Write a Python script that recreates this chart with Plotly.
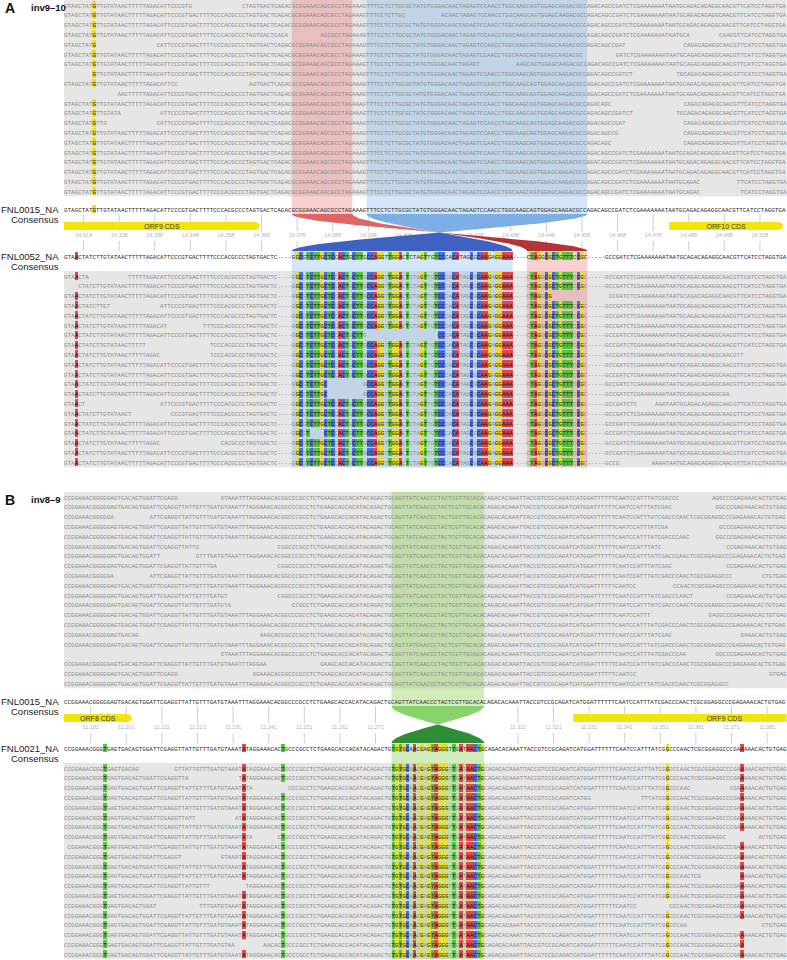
import plotly.graph_objects as go

# ---------------- data ----------------
# consensus sequences (index 0 = first visible column)
CONS_A_TOP = ("GTAGCTATGTTGTATAACTTTTTAGACATTCCCGTGACTTTTCCCACGCCCTAGTGACTC"
              "AGACGCGGAAACAGCGCCTAGAAAGTTTCCTCTTGCGCTATGTGGGACAACTAGAGTCCA"
              "ACCTGGCAAGCAGTGGAGCAAGACGCCAGACAGCCGATCTCGAAAAAAATAATGCAGACA"
              "GAGGCAACGTTCATCCTAGGTGA")
CONS_A_BOT = ("GTAACTATCTTGTATAACTTTTTAGACATTCCCGTGACTTTTCCCACGCCCTAGTGACTC"
              "----"
              "GGCGTCTTGCTCCACTGCTTGCCAGGTTGGACTCTAGTTGTCCCACATAGCGCAAGAGGAAA"
              "----"
              "CTAGGCGCTGTTTCCGC"
              "-----"
              "GCCGATCTCGAAAAAAATAATGCAGACAGAGGCAACGTTCATCCTAGGTGA")
CONS_B_TOP = ("CCGGAAACGGGGGAGTGACAGTGGATTCGAGGTTATTGTTTGATGTAAATTTAGGAAACA"
              "CGGCCCGCCTCTGAAGCACCACATACAGACTGCAGTTATCAACCCTACTCGTTGCACACA"
              "GACACAAATTACCGTCCGCAGATCATGGATTTTTTCAATCCATTTATCGACCCAACTCGC"
              "GGAGGCCCGAGAAACACTGTGAG")
CONS_B_BOT = ("CCGGAAACGGGTGAGTGACAGTGGATTCGAGGTTATTGTTTGATGTAAATATAGGAAACA"
              "CTGCCCGCCTCTGAAGCACCACATACAGACTGTGTGCAACGAGTAGGGTTGATAACTGCA"
              "GACACAAATTACCGTCCGCAGATCATGGATTTTTTCAATCCATTTATCGGCCCAACTCGC"
              "GGAGGCCCGAAAAACACTGTGAG")

# reads: covered column intervals (inclusive)
READS_A_TOP = [
    [[0, 35], [50, 202]], [[0, 95], [106, 202]], [[0, 202]],
    [[0, 62], [72, 175], [184, 202]], [[0, 8], [26, 157], [174, 202]],
    [[0, 145], [155, 202]], [[0, 116], [127, 202]], [[8, 159], [172, 202]],
    [[0, 31], [52, 202]], [[15, 202]], [[0, 153], [174, 202]],
    [[0, 15], [27, 159], [172, 202]], [[0, 11], [26, 157], [174, 202]],
    [[0, 155], [174, 202]], [[0, 153], [174, 202]], [[0, 202]], [[0, 202]],
    [[0, 202]], [[0, 178], [189, 202]], [[0, 178], [190, 202]],
]
READS_A_BOT = [
    [[0, 6], [18, 202]], [[4, 202]], [[0, 136], [153, 202]],
    [[0, 12], [27, 202]], [[0, 202]], [[0, 28], [39, 202]],
    [[0, 84], [105, 202]], [[0, 22], [41, 202]], [[0, 26], [41, 190]],
    [[0, 202]], [[0, 202]], [[0, 73], [84, 202]], [[0, 73], [84, 186]],
    [[0, 5], [27, 160], [166, 202]], [[0, 18], [30, 202]], [[0, 202]],
    [[0, 68], [73, 202]], [[0, 26], [44, 202]], [[0, 202]],
    [[0, 155], [165, 202]],
]
READS_B_TOP = [
    [[0, 31], [44, 172], [182, 202]], [[0, 170], [183, 202]],
    [[0, 13], [24, 202]], [[0, 169], [184, 202]], [[0, 175], [183, 202]],
    [[0, 37], [60, 167], [186, 202]], [[0, 26], [37, 202]],
    [[0, 42], [60, 170], [186, 202]], [[0, 13], [24, 187], [196, 202]],
    [[0, 160], [171, 202]], [[0, 45], [60, 176], [186, 202]],
    [[0, 46], [64, 202]], [[0, 164], [181, 202]], [[0, 202]],
    [[0, 20], [55, 170], [190, 202]], [[0, 202]], [[44, 174], [183, 202]],
    [[0, 56], [72, 202]], [[0, 31], [53, 160], [198, 202]], [[0, 186]],
]
READS_B_BOT = [
    [[0, 20], [31, 202]], [[0, 34], [49, 202]],
    [[0, 52], [63, 175], [187, 202]], [[0, 147], [162, 202]], [[0, 202]],
    [[0, 36], [48, 202]], [[0, 202]], [[0, 52], [60, 185], [195, 202]],
    [[1, 202]], [[0, 32], [44, 202]], [[0, 202]], [[0, 178], [190, 202]],
    [[0, 40], [51, 202]], [[0, 202]], [[0, 25], [38, 160], [170, 202]],
    [[0, 202]], [[0, 174], [196, 202]], [[0, 202]], [[0, 47], [56, 190]],
    [[0, 202]],
]

# inverted segments: (top start, top end, bottom start, bottom end)
INV_A = [(85, 146, 64, 125), (64, 80, 130, 146)]
INV_B = [(92, 117, 92, 117)]

# single-base variants outside the inverted blocks
VAR_A_TOP = [8]
VAR_A_BOT = [3]
VAR_B_BOT = [11, 50, 61, 169, 190]

# CDS features: (label, first column, last column)
ORFS_A = [("ORF9 CDS", -40, 54), ("ORF10 CDS", 170, 201)]
ORFS_B = [("ORF8 CDS", -30, 18), ("ORF9 CDS", 143, 227)]

# genome position of column 0 and ruler ticks
START_A = 14313
START_B = 11184
TICKS_A = [14318, 14328, 14338, 14348, 14358, 14368, 14378, 14388, 14398,
           14408, 14418, 14428, 14438, 14448, 14458, 14468, 14478, 14488,
           14498, 14508]
TICKS_B = [11191, 11201, 11211, 11221, 11231, 11241, 11251, 11261, 11271,
           11311, 11321, 11331, 11341, 11351, 11361, 11371, 11381]

# ---------------- layout ----------------
W, H = 787, 960
LEFT = 64          # px where column 0 starts
CW = 3.56          # px per column
X0 = -0.5 - LEFT / CW
X1 = X0 + W / CW
SEQ_SIZE = CW / 0.6
ROW_H = 9.8
ROW0_T, CONS_T, ORF_Y, TICKLAB_Y, CONS_B, ROW0_B = 5, 209, 226, 236, 256, 276
RIB_T, RIB_B = 214, 251
PAD = 5

BASE_COL = {"A": "#e2474a", "C": "#4a6ede", "G": "#ebdc35", "T": "#5cc23d", "-": "#cccccc"}
COLUMN_COL = {"blue": "rgba(100,170,230,0.28)", "red": "rgba(235,110,110,0.32)",
              "green": "rgba(140,205,80,0.38)"}
RIBBON_COL = {"blue": ("#7cafe6", "#3f62c0"), "red": ("#dd6767", "#b23434"),
              "green": ("#88d46a", "#2f8d36")}


def block_mismatch(top, bot, inv):
    out = []
    for _, _, b0, b1 in inv:
        out += [i for i in range(b0, b1 + 1) if bot[i] != top[i] and bot[i] != "-"]
    return out


HL_A_TOP = VAR_A_TOP
HL_A_BOT = VAR_A_BOT + block_mismatch(CONS_A_TOP, CONS_A_BOT, INV_A)
HL_B_TOP = []
HL_B_BOT = VAR_B_BOT + block_mismatch(CONS_B_TOP, CONS_B_BOT, INV_B)

panels = [
    dict(off=0, letter="A", title="inv9\u201310", names=("FNL0015_NA", "FNL0052_NA"),
         top=CONS_A_TOP, bot=CONS_A_BOT, rt=READS_A_TOP, rb=READS_A_BOT,
         ht=HL_A_TOP, hb=HL_A_BOT, inv=INV_A, styles=["blue", "red"],
         orfs=ORFS_A, ticks=TICKS_A, start=START_A),
    dict(off=492, letter="B", title="inv8\u20139", names=("FNL0015_NA", "FNL0021_NA"),
         top=CONS_B_TOP, bot=CONS_B_BOT, rt=READS_B_TOP, rb=READS_B_BOT,
         ht=HL_B_TOP, hb=HL_B_BOT, inv=INV_B, styles=["green"],
         orfs=ORFS_B, ticks=TICKS_B, start=START_B),
]

shapes, annots = [], []
runs_read = ([], [], [])
runs_cons = ([], [], [])
cells = ([], [], [], [])   # x, base, color, letter
tick_txt = ([], [], [])
orf_txt = ([], [], [])
ribbons = []


def add_row(seq, intervals, hl, y, store):
    hl = set(hl)
    for a, b in intervals:
        start = None
        for i in range(a, b + 2):
            if i <= b and i not in hl:
                if start is None:
                    start = i
                continue
            if start is not None:
                store[0].append(start - 0.5)
                store[1].append(y + 1.2)
                store[2].append(seq[start:i])
                start = None
            if i <= b:
                cells[0].append(i)
                cells[1].append(y - 4)
                cells[2].append(BASE_COL[seq[i]])
                cells[3].append(seq[i])


def smooth(t):
    return t * t * (3 - 2 * t)


def bowtie(a1, a2, b1, b2, yT, yB):
    sc = (a2 - a1) / ((a2 - a1) + (b2 - b1))
    lo, hi = 0.0, 1.0
    for _ in range(60):
        mid = (lo + hi) / 2
        if smooth(mid) < sc:
            lo = mid
        else:
            hi = mid
    tc = (lo + hi) / 2
    n = 40

    def L(t):
        return a1 + (b2 - a1) * smooth(t), yT + (yB - yT) * t

    def R(t):
        return a2 + (b1 - a2) * smooth(t), yT + (yB - yT) * t

    ut = [tc * k / n for k in range(n + 1)]
    lt = [tc + (1 - tc) * k / n for k in range(n + 1)]
    up = [L(t) for t in ut] + [R(t) for t in reversed(ut)]
    low = [L(t) for t in lt] + [R(t) for t in reversed(lt)]
    return up, low


for p in panels:
    o = p["off"]
    nt, nb = len(p["rt"]), len(p["rb"])
    tb0, tb1 = o + ROW0_T - PAD, o + ROW0_T + (nt - 1) * ROW_H + PAD
    bb0, bb1 = o + ROW0_B - PAD, o + ROW0_B + (nb - 1) * ROW_H + PAD
    for y0, y1 in [(tb0, tb1), (bb0, bb1)]:
        shapes.append(dict(type="rect", x0=-0.5, x1=202.5, y0=y0, y1=y1,
                           fillcolor="#e6e6e6", line_width=0, layer="below"))
    # highlighted columns of the inverted segments
    for (t0, t1, b0, b1), st in zip(p["inv"], p["styles"]):
        shapes.append(dict(type="rect", x0=t0 - 0.5, x1=t1 + 0.5, y0=tb0, y1=o + RIB_T,
                           fillcolor=COLUMN_COL[st], line_width=0, layer="below"))
        shapes.append(dict(type="rect", x0=b0 - 0.5, x1=b1 + 0.5, y0=o + RIB_B, y1=bb1,
                           fillcolor=COLUMN_COL[st], line_width=0, layer="below"))
        up, low = bowtie(t0 - 0.5, t1 + 0.5, b0 - 0.5, b1 + 0.5, o + RIB_T, o + RIB_B)
        ribbons.append((up, RIBBON_COL[st][0]))
        ribbons.append((low, RIBBON_COL[st][1]))
    # ruler
    for t in p["ticks"]:
        c = t - p["start"]
        for y0, y1 in [(o + RIB_T, o + TICKLAB_Y - 5), (o + TICKLAB_Y + 5, o + RIB_B)]:
            shapes.append(dict(type="line", x0=c, x1=c, y0=y0, y1=y1,
                               line=dict(color="#cfcfcf", width=1), layer="below"))
        tick_txt[0].append(c)
        tick_txt[1].append(o + TICKLAB_Y)
        tick_txt[2].append(f"{t:,}")
    # CDS bars
    for name, s, e in p["orfs"]:
        xs = max(s - 0.5, -0.5)
        xe = min(e + 0.5, 202.5)
        yt, yb, ym = o + ORF_Y - 4, o + ORF_Y + 4, o + ORF_Y
        if e + 0.5 <= 202.5:
            tip = 1.8
            path = (f"M{xs},{yt} L{xe - tip},{yt} Q{xe},{yt} {xe},{ym} "
                    f"Q{xe},{yb} {xe - tip},{yb} L{xs},{yb} Z")
        else:
            path = f"M{xs},{yt} L{xe},{yt} L{xe},{yb} L{xs},{yb} Z"
        shapes.append(dict(type="path", path=path, fillcolor="#f3e40c",
                           line_width=0, layer="below"))
        orf_txt[0].append((xs + e + 0.5) / 2)
        orf_txt[1].append(o + ORF_Y + 0.8)
        orf_txt[2].append(name)
    # sequences
    for k, iv in enumerate(p["rt"]):
        add_row(p["top"], iv, p["ht"], o + ROW0_T + k * ROW_H, runs_read)
    for k, iv in enumerate(p["rb"]):
        add_row(p["bot"], iv, p["hb"], o + ROW0_B + k * ROW_H, runs_read)
    add_row(p["top"], [[0, 202]], p["ht"], o + CONS_T, runs_cons)
    add_row(p["bot"], [[0, 202]], p["hb"], o + CONS_B, runs_cons)
    # labels
    annots.append(dict(x=3 / W, y=o + 8, xref="paper", yref="y", text=f"<b>{p['letter']}</b>",
                       showarrow=False, xanchor="left", yanchor="middle",
                       font=dict(family="Liberation Sans", size=14, color="#111")))
    annots.append(dict(x=29 / W, y=o + 7, xref="paper", yref="y", text=f"<b>{p['title']}</b>",
                       showarrow=False, xanchor="left", yanchor="middle",
                       font=dict(family="Liberation Sans", size=9.5, color="#111")))
    for nm, yy in [(p["names"][0], CONS_T), (p["names"][1], CONS_B)]:
        annots.append(dict(x=61 / W, y=o + yy, xref="paper", yref="y", text=nm,
                           showarrow=False, xanchor="right", yanchor="middle",
                           font=dict(family="Liberation Sans", size=9.5, color="#222")))
        annots.append(dict(x=61 / W, y=o + yy + 10.5, xref="paper", yref="y", text="Consensus",
                           showarrow=False, xanchor="right", yanchor="middle",
                           font=dict(family="Liberation Sans", size=9.5, color="#222")))

fig = go.Figure()
fig.add_trace(go.Scatter(x=tick_txt[0], y=tick_txt[1], text=tick_txt[2], mode="text",
                         textposition="middle center", hoverinfo="skip",
                         textfont=dict(family="Liberation Sans", size=5.5, color="#b3b3b3")))
for pts, col in ribbons:
    fig.add_trace(go.Scatter(x=[q[0] for q in pts], y=[q[1] for q in pts], mode="lines",
                             fill="toself", fillcolor=col, line=dict(width=0),
                             hoverinfo="skip"))
fig.add_trace(go.Scatter(x=orf_txt[0], y=orf_txt[1], text=orf_txt[2], mode="text",
                         textposition="middle center", hoverinfo="skip",
                         textfont=dict(family="Liberation Sans", size=7, color="#3b3b20")))
fig.add_trace(go.Bar(x=cells[0], y=[8] * len(cells[0]), base=cells[1], width=1,
                     marker=dict(color=cells[2], line=dict(width=0)), hoverinfo="skip"))
fig.add_trace(go.Scatter(x=runs_read[0], y=runs_read[1], text=runs_read[2], mode="text",
                         textposition="middle right", hoverinfo="skip",
                         textfont=dict(family="Liberation Mono", size=SEQ_SIZE, color="#8c8c8c")))
fig.add_trace(go.Scatter(x=runs_cons[0], y=runs_cons[1], text=runs_cons[2], mode="text",
                         textposition="middle right", hoverinfo="skip",
                         textfont=dict(family="Liberation Mono", size=SEQ_SIZE, color="#2a2a2a")))
fig.add_trace(go.Scatter(x=cells[0], y=[b + 5.2 for b in cells[1]], text=cells[3], mode="text",
                         textposition="middle center", hoverinfo="skip",
                         textfont=dict(family="Liberation Mono", size=SEQ_SIZE, color="#151515")))

fig.update_layout(
    width=W, height=H, margin=dict(l=0, r=0, t=0, b=0),
    paper_bgcolor="white", plot_bgcolor="white", showlegend=False,
    barmode="overlay", bargap=0,
    xaxis=dict(range=[X0, X1], visible=False, fixedrange=True),
    yaxis=dict(range=[H, 0], visible=False, fixedrange=True),
    shapes=shapes, annotations=annots,
)
# the page's default 8px body margin would shift the figure; remove it
fig.write_html("out.html", config={"displayModeBar": False},
               post_script="document.body.style.margin='0px';")
